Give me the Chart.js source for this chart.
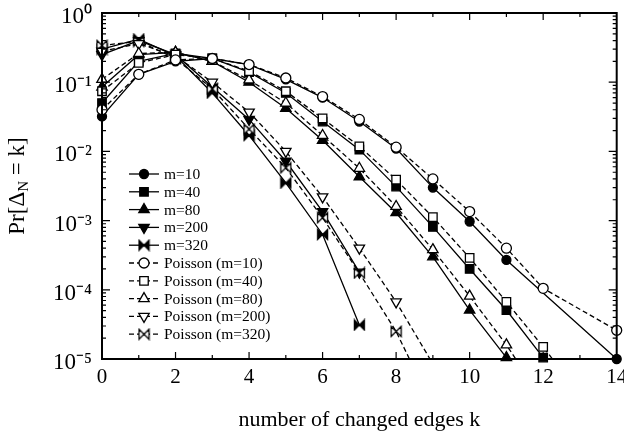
<!DOCTYPE html>
<html>
<head>
<meta charset="utf-8">
<script src="https://cdn.jsdelivr.net/npm/chart.js@4.4.0/dist/chart.umd.min.js"></script>
<style>
html,body{margin:0;padding:0;background:#fff;}
</style>
</head>
<body>
<canvas id="grafico" width="624" height="436"></canvas>
<script>
// datos (null = sin punto)
const kValues = [0,1,2,3,4,5,6,7,8,9,10,11,12,13,14];
const m10  = [0.032,0.13,0.20,0.22,0.18,0.11,0.060,0.027,0.011,0.0030,0.00097,0.00027,null,null,0.00001];
const m40  = [0.050,0.20,0.26,0.22,0.14,0.070,0.027,0.0106,0.0031,0.00081,0.00020,0.000051,0.0000105,null,null];
const m80  = [0.085,0.25,0.27,0.20,0.10,0.042,0.0145,0.0043,0.0013,0.00030,0.000051,0.0000105,null,null,null];
const m200 = [0.25,0.40,0.25,0.085,0.029,0.0072,0.00135,0.00018,null,null,null,null,null,null,null];
const m320 = [0.30,0.42,0.24,0.070,0.017,0.0035,0.00063,0.000031,null,null,null,null,null,null,null];
const p10  = [0.040,0.13,0.21,0.22,0.18,0.115,0.062,0.029,0.0115,0.0040,0.00135,0.00040,0.000105,null,0.000026];
const p40  = [0.074,0.19,0.25,0.22,0.145,0.074,0.030,0.0118,0.0039,0.00112,0.00029,0.000067,0.000015,0.000003,null];
const p80  = [0.11,0.26,0.27,0.20,0.108,0.050,0.017,0.0057,0.0016,0.00038,0.000081,0.000016,0.0000025,null,null];
const p200 = [0.28,0.36,0.24,0.10,0.037,0.0100,0.0022,0.00040,0.000067,0.0000085,null,null,null,null,null];
const p320 = [0.34,0.39,0.22,0.080,0.021,0.0058,0.0011,0.000175,0.000025,0.000002,null,null,null,null,null];
const xTicks = [0,2,4,6,8,10,12,14];
const yExponents = [0,-1,-2,-3,-4,-5];

const serif = '"Liberation Serif", "Times New Roman", serif';
const sup = {'0':'⁰','1':'¹','2':'²','3':'³','4':'⁴','5':'⁵','6':'⁶','7':'⁷','8':'⁸','9':'⁹','-':'⁻'};

function crearBowtie(relleno){
  const c = document.createElement('canvas');
  c.width = 13; c.height = 13;
  const g = c.getContext('2d');
  g.beginPath();
  g.moveTo(1.5,1.5); g.lineTo(6.5,6.5); g.lineTo(1.5,11.5); g.closePath();
  g.moveTo(11.5,1.5); g.lineTo(6.5,6.5); g.lineTo(11.5,11.5); g.closePath();
  g.fillStyle = relleno ? '#000' : '#fff';
  g.fill();
  g.lineWidth = 1.3;
  g.strokeStyle = '#000';
  g.stroke();
  return c;
}

function serie(label, valores, forma, relleno, punteada, radio, rot){
  return {
    label: label,
    data: valores.map((v,i) => ({x: kValues[i], y: v})).filter(p => p.y !== null),
    borderColor: '#000',
    borderWidth: 1.3,
    borderDash: punteada ? [5,3] : [],
    pointStyle: forma,
    pointRotation: rot || 0,
    pointRadius: radio,
    pointBorderWidth: 1.3,
    pointBorderColor: '#000',
    pointBackgroundColor: relleno ? '#000' : '#fff',
    tension: 0,
    clip: {left: 8, top: 8, right: 8, bottom: punteada ? 0 : 8}
  };
}

const dsP10  = serie('Poisson (m=10)', p10, 'circle', false, true, 5);
const dsP40  = serie('Poisson (m=40)', p40, 'rect', false, true, 6);
const dsP80  = serie('Poisson (m=80)', p80, 'triangle', false, true, 6);
const dsP200 = serie('Poisson (m=200)', p200, 'triangle', false, true, 6, 180);
const dsP320 = serie('Poisson (m=320)', p320, crearBowtie(false), false, true, 6);
const dsM10  = serie('m=10', m10, 'circle', true, false, 4.5);
const dsM40  = serie('m=40', m40, 'rect', true, false, 6);
const dsM80  = serie('m=80', m80, 'triangle', true, false, 6);
const dsM200 = serie('m=200', m200, 'triangle', true, false, 6, 180);
const dsM320 = serie('m=320', m320, crearBowtie(true), true, false, 6);

const ordenLeyenda = [dsM10, dsM40, dsM80, dsM200, dsM320, dsP10, dsP40, dsP80, dsP200, dsP320];

const leyenda = {
  id: 'leyenda',
  afterDraw(chart){
    const ctx = chart.ctx;
    ctx.save();
    ordenLeyenda.forEach((ds, i) => {
      const y = 174 + i*17.8;
      ctx.strokeStyle = '#000';
      ctx.lineWidth = 1.3;
      ctx.setLineDash(ds.borderDash);
      ctx.beginPath(); ctx.moveTo(129,y); ctx.lineTo(159,y); ctx.stroke();
      ctx.setLineDash([]);
      ctx.fillStyle = ds.pointBackgroundColor;
      Chart.helpers.drawPoint(ctx, {pointStyle: ds.pointStyle, rotation: ds.pointRotation, radius: ds.pointRadius, borderWidth: 1.3}, 144, y);
      ctx.fillStyle = '#000';
      ctx.font = '15.5px ' + serif;
      ctx.textBaseline = 'middle';
      ctx.fillText(ds.label, 164, y + 1);
    });
    ctx.restore();
  }
};

const marco = {
  id: 'marco',
  afterDraw(chart){
    const ctx = chart.ctx;
    const a = chart.chartArea;
    const sx = chart.scales.x, sy = chart.scales.y;
    ctx.save();
    ctx.strokeStyle = '#000';
    ctx.lineWidth = 2;
    ctx.setLineDash([]);
    ctx.strokeRect(a.left, a.top, a.right - a.left, a.bottom - a.top);
    ctx.lineWidth = 1.2;
    ctx.beginPath();
    for (let k = 1; k < 14; k++){
      const px = sx.getPixelForValue(k);
      const len = k % 2 === 0 ? 7 : 4;
      ctx.moveTo(px, a.bottom); ctx.lineTo(px, a.bottom - len);
      ctx.moveTo(px, a.top); ctx.lineTo(px, a.top + len);
    }
    for (let e = -5; e < 0; e++){
      for (let m = 1; m < 10; m++){
        const py = sy.getPixelForValue(m * Math.pow(10, e));
        const len = m === 1 ? 8 : 4;
        if (m === 1 && e === -5) continue;
        ctx.moveTo(a.left, py); ctx.lineTo(a.left + len, py);
        ctx.moveTo(a.right, py); ctx.lineTo(a.right - len, py);
      }
    }
    ctx.stroke();
    // titulo eje y con subindice
    ctx.fillStyle = '#000';
    ctx.translate(18, (a.top + a.bottom)/2);
    ctx.rotate(-Math.PI/2);
    ctx.textBaseline = 'middle';
    const fG = '23px ' + serif, fS = '15px ' + serif;
    ctx.font = fG; const w1 = ctx.measureText('Pr[Δ').width; const w3 = ctx.measureText(' = k]').width;
    ctx.font = fS; const w2 = ctx.measureText('N').width;
    let x0 = -(w1 + w2 + w3)/2;
    ctx.font = fG; ctx.fillText('Pr[Δ', x0, 0);
    ctx.font = fS; ctx.fillText('N', x0 + w1, 6);
    ctx.font = fG; ctx.fillText(' = k]', x0 + w1 + w2, 0);
    ctx.restore();
  }
};

new Chart(document.getElementById('grafico').getContext('2d'), {
  type: 'line',
  data: {
    datasets: [dsP10, dsP40, dsP80, dsP200, dsP320, dsM10, dsM40, dsM80, dsM200, dsM320]
  },
  options: {
    responsive: false,
    animation: false,
    layout: {padding: {top: 13, right: 7, bottom: 0, left: 0}},
    plugins: {legend: {display: false}, tooltip: {enabled: false}},
    scales: {
      x: {
        type: 'linear', min: 0, max: 14,
        afterBuildTicks: s => { s.ticks = xTicks.map(v => ({value: v})); },
        afterFit: s => { s.height = 77; s.paddingLeft = 0; s.paddingRight = 0; },
        grid: {display: false, drawTicks: false},
        border: {display: false},
        ticks: {color: '#000', font: {family: serif, size: 21}, padding: 6, maxRotation: 0, autoSkip: false},
        title: {display: true, text: 'number of changed edges k', color: '#000', font: {family: serif, size: 22}, padding: {top: 0, bottom: 3}}
      },
      y: {
        type: 'logarithmic', min: 0.00001, max: 1,
        afterBuildTicks: s => { s.ticks = yExponents.map(e => ({value: Math.pow(10, e)})); },
        afterFit: s => { s.width = 102; s.paddingTop = 0; s.paddingBottom = 0; },
        grid: {display: false, drawTicks: false},
        border: {display: false},
        ticks: {
          color: '#000', font: {family: serif, size: 23}, padding: 10, autoSkip: false, labelOffset: 4,
          callback: v => '10' + String(Math.round(Math.log10(v))).split('').map(c => sup[c]).join('')
        }
      }
    }
  },
  plugins: [leyenda, marco]
});
</script>
</body>
</html>
